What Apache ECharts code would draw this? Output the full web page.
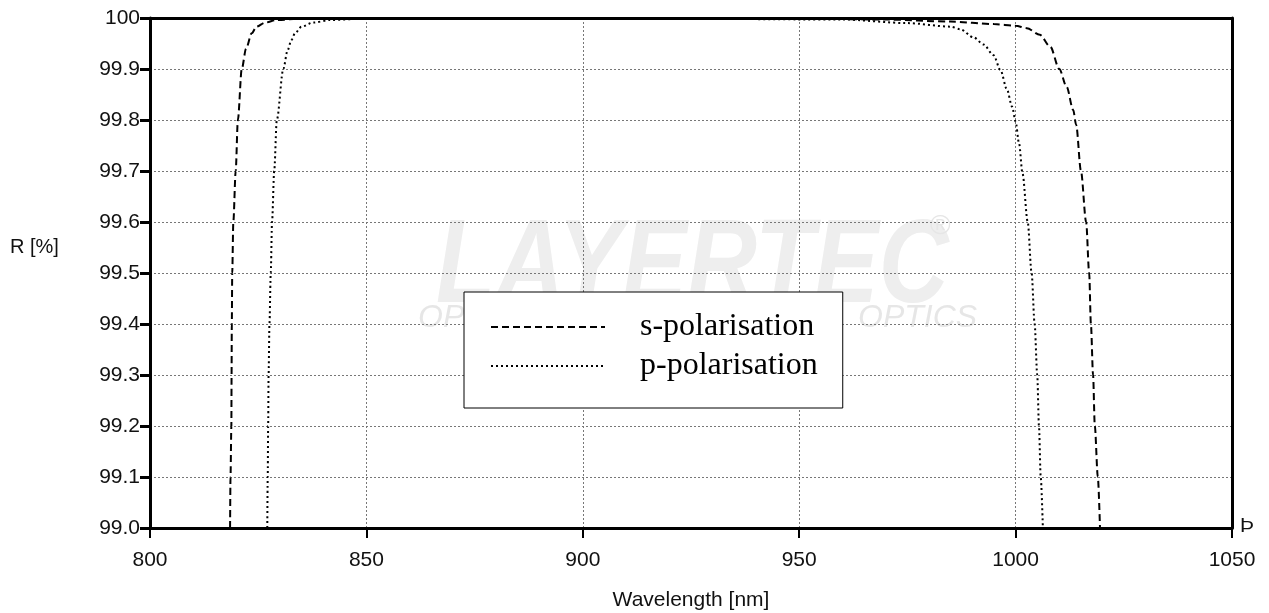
<!DOCTYPE html>
<html>
<head>
<meta charset="utf-8">
<script src="https://cdn.jsdelivr.net/npm/echarts@6/dist/echarts.min.js"></script>
<style>
    html, body {margin: 0; padding: 0; background: #fff;}
    #main {width: 1269px; height: 613px;}
</style>
</head>
<body>
<div id="main"></div>
<script>
// 数据：波长 (nm) 与反射率 R (%)
var sWavelength = [818.5, 818.6, 818.8, 818.85, 818.9, 819.0, 819.25, 819.8, 820.3, 821.2, 822.2, 823.5, 824.6, 826.6, 829.3, 835, 850, 900, 950, 970, 985, 995, 1000, 1002.6, 1005.6, 1008, 1010.1, 1011.8, 1013.3, 1014.0, 1015.1, 1016.3, 1017.0, 1017.4, 1017.9, 1018.3, 1019.0, 1019.5];
var sReflect = [99.0, 99.1, 99.2, 99.3, 99.4, 99.5, 99.6, 99.7, 99.8, 99.9, 99.94, 99.97, 99.983, 99.991, 99.996, 99.999, 100, 100, 99.999, 99.997, 99.993, 99.988, 99.985, 99.98, 99.967, 99.944, 99.9, 99.865, 99.82, 99.79, 99.7, 99.6, 99.5, 99.4, 99.3, 99.2, 99.1, 99.0];
var pWavelength = [827.1, 827.2, 827.3, 827.4, 827.6, 827.9, 828.2, 828.7, 829.3, 830.8, 831.8, 832.7, 833.5, 835.0, 837.7, 841.6, 850, 900, 960, 975, 985, 987.2, 990.3, 992.6, 994.9, 996.5, 998, 999.2, 1000, 1000.8, 1001.6, 1002.8, 1003.7, 1004.4, 1005.0, 1005.4, 1005.8, 1006.3];
var pReflect = [99.0, 99.1, 99.2, 99.3, 99.4, 99.5, 99.6, 99.7, 99.8, 99.9, 99.937, 99.957, 99.97, 99.983, 99.991, 99.996, 99.999, 100, 99.997, 99.99, 99.983, 99.978, 99.962, 99.948, 99.927, 99.898, 99.86, 99.826, 99.797, 99.754, 99.695, 99.6, 99.5, 99.4, 99.3, 99.2, 99.1, 99.0];
var seriesNames = ['s-polarisation', 'p-polarisation'];

function pairs(xs, ys) {
    return xs.map(function (x, i) { return [x, ys[i]]; });
}

var labelFont = '"Liberation Sans", Arial';

var myChart = echarts.init(document.getElementById('main'));

var option = {
    backgroundColor: '#fff',
    animation: false,
    grid: {left: 150, right: 37, top: 18, bottom: 85, outerBoundsMode: 'none', containLabel: false},
    graphic: [
        // 水印
        {type: 'text', left: 436, top: 210, z: -10, scaleX: 0.82,
            style: {text: 'LAYERTEC', font: 'italic bold 118px ' + labelFont, fill: '#eeeeee'}},
        {type: 'text', left: 930, top: 212, z: -10,
            style: {text: '®', font: '28px ' + labelFont, fill: '#e6e6e6'}},
        {type: 'text', left: 418, top: 302, z: -10,
            style: {text: 'OP', font: 'italic 32px ' + labelFont, fill: '#e6e6e6'}},
        {type: 'text', left: 858, top: 302, z: -10,
            style: {text: 'OPTICS', font: 'italic 32px ' + labelFont, fill: '#e6e6e6'}},
        // 纵轴名称
        {type: 'text', left: 10, top: 237,
            style: {text: 'R [%]', font: '20px ' + labelFont, fill: '#111'}},
        {type: 'text', left: 1240, top: 516,
            style: {text: 'Þ', font: '21px ' + labelFont, fill: '#111'}}
    ],
    legend: {
        orient: 'vertical',
        left: 464,
        top: 292,
        data: seriesNames,
        backgroundColor: '#fff',
        borderColor: '#000',
        borderWidth: 1,
        padding: [19, 25, 26, 26],
        itemWidth: 114,
        itemHeight: 14,
        itemGap: 7,
        z: 20,
        itemStyle: {opacity: 0},
        textStyle: {
            fontFamily: '"Liberation Serif", "Times New Roman", serif',
            fontSize: 32,
            color: '#000',
            padding: [0, 0, 0, 30]
        }
    },
    xAxis: [{
        type: 'value',
        min: 800,
        max: 1050,
        interval: 50,
        name: 'Wavelength [nm]',
        nameLocation: 'middle',
        nameGap: 62,
        nameTextStyle: {fontFamily: labelFont, fontSize: 21, color: '#111'},
        axisLine: {lineStyle: {color: '#000', width: 3}},
        axisTick: {length: 10, lineStyle: {color: '#000', width: 2}},
        axisLabel: {margin: 22, fontFamily: labelFont, fontSize: 21, color: '#111',
            formatter: function (v) { return String(v); }},
        splitLine: {show: true, lineStyle: {color: '#777', width: 1, type: [2, 2]}}
    }, {
        type: 'value',
        position: 'top',
        min: 800,
        max: 1050,
        interval: 50,
        axisLine: {show: true, lineStyle: {color: '#000', width: 3}},
        axisTick: {show: false},
        axisLabel: {show: false},
        splitLine: {show: false}
    }],
    yAxis: [{
        type: 'value',
        min: 99,
        max: 100,
        interval: 0.1,
        axisLine: {show: true, lineStyle: {color: '#000', width: 3}},
        axisTick: {show: true, length: 10, lineStyle: {color: '#000', width: 3}},
        axisLabel: {
            margin: 10,
            fontFamily: labelFont,
            fontSize: 21,
            color: '#111',
            formatter: function (v) {
                return Math.abs(v - 100) < 1e-6 ? '100' : v.toFixed(1);
            }
        },
        splitLine: {show: true, lineStyle: {color: '#777', width: 1, type: [2, 2]}}
    }, {
        type: 'value',
        position: 'right',
        min: 99,
        max: 100,
        interval: 0.1,
        axisLine: {show: true, lineStyle: {color: '#000', width: 3}},
        axisTick: {show: false},
        axisLabel: {show: false},
        splitLine: {show: false}
    }],
    series: [{
        name: seriesNames[0],
        type: 'line',
        symbol: 'none',
        smooth: 0.3,
        smoothMonotone: 'x',
        lineStyle: {color: '#000', width: 2, type: [7, 4]},
        itemStyle: {color: '#000'},
        data: pairs(sWavelength, sReflect)
    }, {
        name: seriesNames[1],
        type: 'line',
        symbol: 'none',
        smooth: 0.3,
        smoothMonotone: 'x',
        lineStyle: {color: '#000', width: 2, type: [2, 3]},
        itemStyle: {color: '#000'},
        data: pairs(pWavelength, pReflect)
    }]
};

myChart.setOption(option);
</script>
</body>
</html>
